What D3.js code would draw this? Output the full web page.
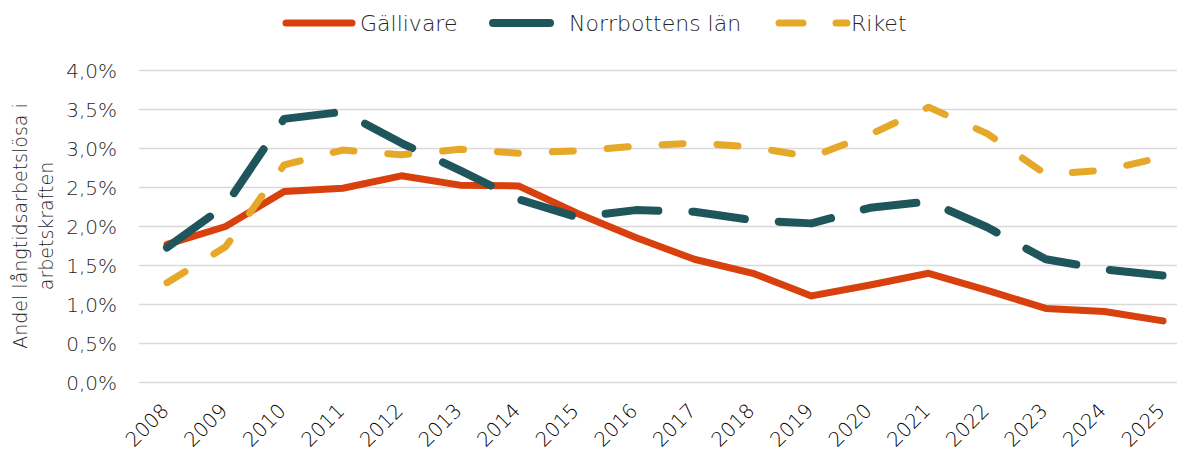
<!DOCTYPE html>
<html>
<head>
<meta charset="utf-8">
<script src="https://cdn.jsdelivr.net/npm/d3@7"></script>
<style>
  html, body { margin: 0; padding: 0; background: #fff; }
  svg text { font-family: "DejaVu Sans", sans-serif; fill: #262626; }
</style>
</head>
<body>
<svg id="chart" width="1177" height="450"></svg>
<script>
// Long-term unemployed as a share of the labour force
const years = ["2008","2009","2010","2011","2012","2013","2014","2015","2016","2017","2018","2019","2020","2021","2022","2023","2024","2025"];
const gallivare = [1.77, 2.00, 2.45, 2.49, 2.65, 2.53, 2.52, 2.17, 1.86, 1.58, 1.40, 1.11, 1.25, 1.40, 1.18, 0.95, 0.91, 0.79];
const norrbotten = [1.73, 2.27, 3.38, 3.47, 3.07, 2.72, 2.35, 2.12, 2.21, 2.19, 2.08, 2.04, 2.24, 2.32, 1.99, 1.58, 1.45, 1.37];
const riket = [1.28, 1.74, 2.79, 2.98, 2.92, 2.99, 2.94, 2.97, 3.03, 3.07, 3.02, 2.89, 3.18, 3.53, 3.19, 2.67, 2.72, 2.89];
const yTicks = [0, 0.5, 1.0, 1.5, 2.0, 2.5, 3.0, 3.5, 4.0];
const seriesNames = ["Gällivare", "Norrbottens län", "Riket"];

const series = [
  { name: seriesNames[0], values: gallivare, color: "#D8400E", dash: null, width: 7 },
  { name: seriesNames[1], values: norrbotten, color: "#1F565C", dash: "53,34", width: 8 },
  { name: seriesNames[2], values: riket, color: "#E6A828", dash: "21,34", width: 7 }
];

const svg = d3.select("#chart");
const plotLeft = 139, plotRight = 1177, plotTop = 70.5, plotBottom = 382.5;

const x = d3.scalePoint().domain(years).range([167, 1163]);
const y = d3.scaleLinear().domain([0, 4]).range([plotBottom, plotTop]);

// horizontal gridlines
svg.append("g").selectAll("line").data(yTicks).join("line")
  .attr("x1", plotLeft).attr("x2", plotRight)
  .attr("y1", d => y(d)).attr("y2", d => y(d))
  .attr("stroke", "#d9d9d9").attr("stroke-width", 1.5);

// y axis labels
const fmt = d => d.toFixed(1).replace(".", ",") + "%";
svg.append("g").selectAll("text").data(yTicks).join("text")
  .attr("x", 117).attr("y", d => y(d)).attr("dy", "0.35em")
  .attr("text-anchor", "end").attr("font-size", 20).attr("font-weight", 200)
  .text(fmt);

// x axis labels, rotated
svg.append("g").selectAll("text").data(years).join("text")
  .attr("transform", d => `translate(${x(d) - 2},${407}) rotate(-45)`)
  .attr("text-anchor", "end").attr("font-size", 20).attr("font-weight", 200)
  .attr("dy", "0.35em")
  .style("fill", "#000")
  .text(d => d);

// y axis title
const yt = svg.append("text")
  .attr("transform", "translate(27,226) rotate(-90)")
  .attr("text-anchor", "middle").attr("font-size", 19).attr("font-weight", 200);
yt.append("tspan").attr("x", 0).attr("dy", 0).text("Andel långtidsarbetslösa i");
yt.append("tspan").attr("x", 0).attr("dy", 26).text("arbetskraften");

// lines
const line = d3.line().x((d, i) => x(years[i])).y(d => y(d));
svg.append("g").selectAll("path").data(series).join("path")
  .attr("d", d => line(d.values))
  .attr("fill", "none")
  .attr("stroke", d => d.color)
  .attr("stroke-width", d => d.width)
  .attr("stroke-linecap", "round")
  .attr("stroke-linejoin", "round")
  .attr("stroke-dasharray", d => d.dash);

// legend
const legendItems = [
  { s: series[0], x1: 286, x2: 352, tx: 360 },
  { s: series[1], x1: 493, x2: 550, tx: 569 },
  { s: series[2], x1: 779, x2: 847, tx: 851 }
];
const lg = svg.append("g");
legendItems.forEach(it => {
  lg.append("line")
    .attr("x1", it.x1).attr("x2", it.x2).attr("y1", 23).attr("y2", 23)
    .attr("stroke", it.s.color).attr("stroke-width", it.s.width)
    .attr("stroke-linecap", "round")
    .attr("stroke-dasharray", it.s.name === seriesNames[2] ? "24,33" : null);
  lg.append("text").attr("x", it.tx).attr("y", 23).attr("dy", "0.35em")
    .attr("font-size", 22).attr("font-weight", 200)
    .text(it.s.name);
});
</script>
</body>
</html>
